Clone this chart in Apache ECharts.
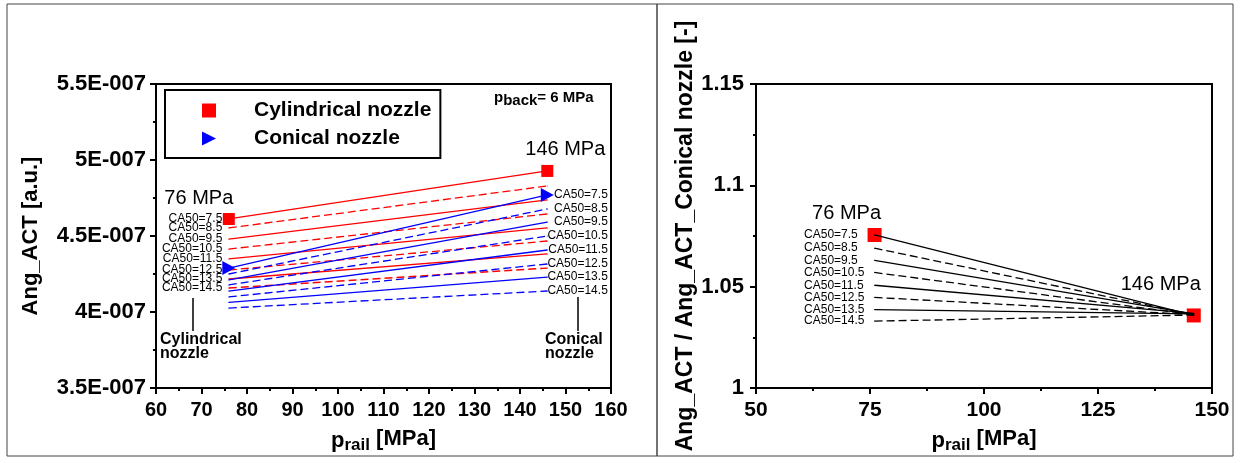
<!DOCTYPE html>
<html>
<head>
<meta charset="utf-8">
<script src="https://cdn.jsdelivr.net/npm/echarts@6/dist/echarts.min.js"></script>
<style>
  html, body { margin: 0; padding: 0; background: #fff; }
  #chart { width: 1241px; height: 463px; }
</style>
</head>
<body>
<div id="chart"></div>
<script>
// rail pressures where the two runs were made [MPa]
const pRail = [76, 146];
const ca50 = ['7.5', '8.5', '9.5', '10.5', '11.5', '12.5', '13.5', '14.5'];

// Ang_ACT, in units of 1E-007
const cylindrical76 = [4.612, 4.553, 4.480, 4.414, 4.349, 4.276, 4.217, 4.158];
const cylindrical146 = [4.928, 4.829, 4.737, 4.645, 4.553, 4.467, 4.382, 4.289];
const conical76 = [4.289, 4.250, 4.211, 4.178, 4.138, 4.099, 4.063, 4.026];
const conical146 = [4.770, 4.678, 4.592, 4.500, 4.408, 4.316, 4.230, 4.138];

// Ang_ACT / Ang_ACT_Conical nozzle
const ratio76 = [1.0755, 1.0690, 1.0630, 1.0570, 1.0507, 1.0447, 1.0387, 1.0330];
const ratio146 = [1.0358, 1.0362, 1.0366, 1.0362, 1.0368, 1.0362, 1.0366, 1.0360];

const leftYTicks = ['3.5E-007', '4E-007', '4.5E-007', '5E-007', '5.5E-007'];

const FONT = 'Liberation Sans, Arial, sans-serif';
const chart = echarts.init(document.getElementById('chart'));

const tri = 'path://M0,0 L10,5 L0,10 Z';

function axisCommon() {
  return {
    axisLine: { show: true, lineStyle: { color: '#000', width: 2 } },
    axisTick: { show: true, length: 6, lineStyle: { color: '#000', width: 2 } },
    minorTick: { show: true, splitNumber: 2, length: 3, lineStyle: { color: '#000', width: 2 } },
    splitLine: { show: false },
    minorSplitLine: { show: false }
  };
}

const nameRich = {
  p: { fontSize: 22, fontWeight: 'bold', fontFamily: FONT, color: '#000' },
  s: { fontSize: 17, fontWeight: 'bold', fontFamily: FONT, color: '#000', padding: [8, 0, 0, 0] },
  n: { fontSize: 22, fontWeight: 'bold', fontFamily: FONT, color: '#000', padding: [0, 0, 4, 0] }
};

// one line per CA50, from 76 to 146 MPa
function pairLine(name, axis, color, a, b, i, label76, label146) {
  const first = { value: [pRail[0], a[i]] };
  const last = { value: [pRail[1], b[i]] };
  if (label76) first.label = label76;
  if (label146) last.label = label146;
  return {
    name: name,
    type: 'line',
    xAxisIndex: axis,
    yAxisIndex: axis,
    data: [first, last],
    symbol: 'circle',
    symbolSize: 1,
    showSymbol: true,
    itemStyle: { color: color },
    lineStyle: { color: color, width: 1.3, type: i % 2 ? [8, 4] : 'solid' },
    label: { show: false },
    z: 2
  };
}

function caLabel(i, pos, align) {
  return {
    show: true,
    formatter: 'CA50=' + ca50[i],
    position: pos,
    align: align,
    verticalAlign: 'middle',
    fontSize: 12,
    fontFamily: FONT,
    color: '#000'
  };
}

const series = [];
for (let i = 0; i < ca50.length; i++) {
  series.push(pairLine('cyl ' + ca50[i], 0, '#ff0000', cylindrical76, cylindrical146, i,
    caLabel(i, [-6, 0.5], 'right'), null));
}
for (let i = 0; i < ca50.length; i++) {
  series.push(pairLine('con ' + ca50[i], 0, '#0000ff', conical76, conical146, i,
    null, caLabel(i, [61, 0.5], 'right')));
}
for (let i = 0; i < ca50.length; i++) {
  series.push(pairLine('ratio ' + ca50[i], 1, '#000', ratio76, ratio146, i,
    caLabel(i, [-70, 0.5], 'left'), null));
}

const mpaLabel = (txt, off) => ({
  show: true, formatter: txt, position: 'inside', offset: off,
  fontSize: 20, fontFamily: FONT, color: '#000'
});

series.push({
  name: 'Cylindrical nozzle',
  type: 'scatter',
  xAxisIndex: 0, yAxisIndex: 0,
  symbol: 'rect', symbolSize: 12,
  itemStyle: { color: '#ff0000', opacity: 1 },
  data: [
    { value: [pRail[0], cylindrical76[0]], label: mpaLabel('76 MPa', [-30, -20]) },
    { value: [pRail[1], cylindrical146[0]], label: mpaLabel('146 MPa', [18, -21]) }
  ],
  z: 5
});
series.push({
  name: 'Conical nozzle',
  type: 'scatter',
  xAxisIndex: 0, yAxisIndex: 0,
  symbol: tri, symbolSize: [13, 14],
  itemStyle: { color: '#0000ff', opacity: 1 },
  data: [[pRail[0], conical76[0]], [pRail[1], conical146[0]]],
  z: 5
});
series.push({
  name: 'ratio markers',
  type: 'scatter',
  xAxisIndex: 1, yAxisIndex: 1,
  symbol: 'rect', symbolSize: 14,
  itemStyle: { color: '#ff0000', opacity: 1 },
  data: [
    { value: [pRail[0], ratio76[0]], label: mpaLabel('76 MPa', [-28, -22]) },
    { value: [pRail[1], ratio146[0]], label: mpaLabel('146 MPa', [-33, -31]) }
  ],
  z: 1
});

const option = {
  animation: false,
  backgroundColor: '#fff',
  textStyle: { fontFamily: FONT },
  grid: [
    { left: 156, top: 84, width: 455, height: 304, show: true, borderColor: '#000', borderWidth: 2, backgroundColor: 'transparent' },
    { left: 756, top: 84, width: 456, height: 304, show: true, borderColor: '#000', borderWidth: 2, backgroundColor: 'transparent' }
  ],
  legend: {
    data: ['Cylindrical nozzle', 'Conical nozzle'],
    orient: 'vertical',
    left: 165, top: 90,
    padding: [10, 9, 9, 37],
    itemGap: 7,
    itemWidth: 14, itemHeight: 14,
    selectedMode: false,
    borderColor: '#000', borderWidth: 2, borderRadius: 0,
    textStyle: { fontSize: 21, fontWeight: 'bold', fontFamily: FONT, color: '#000', padding: [0, 0, 0, 33] }
  },
  xAxis: [
    Object.assign(axisCommon(), {
      gridIndex: 0, type: 'value', min: 60, max: 160, interval: 10,
      axisLabel: { fontSize: 20, fontWeight: 'bold', color: '#000', margin: 12, fontFamily: FONT },
      name: '{p|p}{s|rail}{n| [MPa]}', nameLocation: 'middle', nameGap: 40,
      nameTextStyle: { rich: nameRich }
    }),
    Object.assign(axisCommon(), {
      gridIndex: 1, type: 'value', min: 50, max: 150, interval: 25,
      axisLabel: { fontSize: 21, fontWeight: 'bold', color: '#000', margin: 12, fontFamily: FONT },
      name: '{p|p}{s|rail}{n| [MPa]}', nameLocation: 'middle', nameGap: 40,
      nameTextStyle: { rich: nameRich }
    })
  ],
  yAxis: [
    Object.assign(axisCommon(), {
      gridIndex: 0, type: 'value', min: 3.5, max: 5.5, interval: 0.5,
      axisLabel: {
        fontSize: 22, fontWeight: 'bold', color: '#000', margin: 10, fontFamily: FONT,
        formatter: v => leftYTicks[Math.round((v - 3.5) / 0.5)]
      },
      name: 'Ang_ACT [a.u.]', nameLocation: 'middle', nameGap: 114, nameRotate: 90,
      nameTextStyle: { fontSize: 22, fontWeight: 'bold', color: '#000', fontFamily: FONT }
    }),
    Object.assign(axisCommon(), {
      gridIndex: 1, type: 'value', min: 1, max: 1.15, interval: 0.05,
      axisLabel: {
        fontSize: 22, fontWeight: 'bold', color: '#000', margin: 12, fontFamily: FONT,
        formatter: v => String(+v.toFixed(2))
      },
      name: 'Ang_ACT / Ang_ACT_Conical nozzle [-]', nameLocation: 'middle', nameGap: 48, nameRotate: 90,
      nameTextStyle: { fontSize: 23, fontWeight: 'bold', color: '#000', fontFamily: FONT }
    })
  ],
  graphic: [
    { type: 'rect', shape: { x: 7, y: 4, width: 650, height: 452 }, style: { fill: 'none', stroke: '#444', lineWidth: 1 }, silent: true },
    { type: 'rect', shape: { x: 657, y: 4, width: 576, height: 452 }, style: { fill: 'none', stroke: '#444', lineWidth: 1 }, silent: true },
    { type: 'line', shape: { x1: 193, y1: 298, x2: 193, y2: 331 }, style: { stroke: '#000', lineWidth: 1.5 } },
    { type: 'line', shape: { x1: 578, y1: 297, x2: 578, y2: 331 }, style: { stroke: '#000', lineWidth: 1.5 } },
    { type: 'text', left: 160, top: 332, style: { text: 'Cylindrical\nnozzle', font: 'bold 16px ' + FONT, fill: '#000', lineHeight: 14 } },
    { type: 'text', left: 545, top: 332, style: { text: 'Conical\nnozzle', font: 'bold 16px ' + FONT, fill: '#000', lineHeight: 14 } },
    {
      type: 'text', left: 494, top: 90,
      style: {
        text: '{a|p}{b|back}{a|= 6 MPa}',
        rich: {
          a: { font: 'bold 15px ' + FONT, fill: '#000' },
          b: { font: 'bold 15px ' + FONT, fill: '#000', padding: [6, 0, 0, 0] }
        }
      }
    }
  ],
  series: series
};

chart.setOption(option);
</script>
</body>
</html>
